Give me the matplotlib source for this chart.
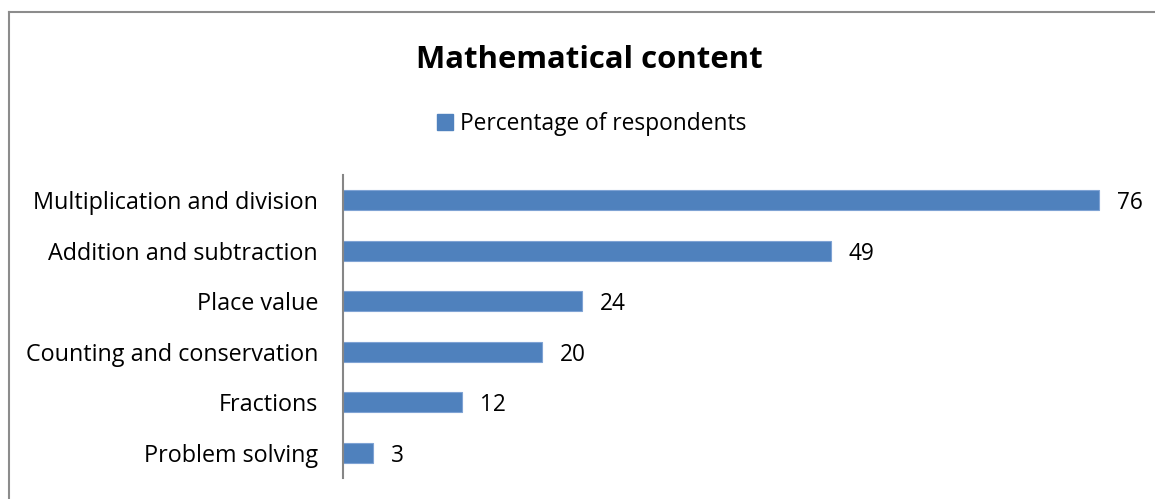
import matplotlib.pyplot as plt
from matplotlib.lines import Line2D
from matplotlib.patches import Patch

plt.rcParams["font.family"] = ["Open Sans", "DejaVu Sans"]

categories = [
    "Multiplication and division",
    "Addition and subtraction",
    "Place value",
    "Counting and conservation",
    "Fractions",
    "Problem solving",
]
values = [76, 49, 24, 20, 12, 3]
series_name = "Percentage of respondents"
title = "Mathematical content"

BAR_COLOR = "#4F81BD"
W, H = 1155, 499

fig = plt.figure(figsize=(W / 100, H / 100), dpi=100)
ax = fig.add_axes([343 / W, 1 - 478 / H, (1139 - 343) / W, (478 - 175) / H])

ypos = list(range(len(categories)))[::-1]
bars = ax.barh(ypos, values, height=0.4, color=BAR_COLOR,
               edgecolor="#7FA3D4", linewidth=0.8)
ax.set_xlim(0, 80)
ax.set_ylim(-0.5, len(categories) - 0.5)
ax.set_yticks(ypos)
ax.set_yticklabels(categories, fontsize=16.8)
ax.tick_params(axis="y", length=0, pad=18)
ax.set_xticks([])
for s in ["top", "right", "bottom"]:
    ax.spines[s].set_visible(False)
ax.spines["left"].set_color("#868686")
ax.spines["left"].set_linewidth(1.5)

for b, v in zip(bars, values):
    ax.text(b.get_width() + 1.8, b.get_y() + b.get_height() / 2, str(v),
            va="center_baseline", ha="left", fontsize=16.3)

fig.text(589 / W, 1 - 57 / H, title, ha="center", va="center_baseline",
         fontsize=22.4, fontweight="bold")
fig.legend(handles=[Patch(color=BAR_COLOR, label=series_name)],
           loc="center", bbox_to_anchor=(592 / W, 1 - 124 / H), frameon=False,
           fontsize=16.4, handlelength=0.7, handleheight=0.7, handletextpad=0.3)

# outer chart border (cropped at right and bottom)
fig.add_artist(Line2D([9 / W, 1], [1 - 12 / H, 1 - 12 / H], color="#8C8C8C", lw=1.5))
fig.add_artist(Line2D([9 / W, 9 / W], [0, 1 - 12 / H], color="#8C8C8C", lw=1.5))

fig.savefig("out.png", dpi=100, facecolor="white")
